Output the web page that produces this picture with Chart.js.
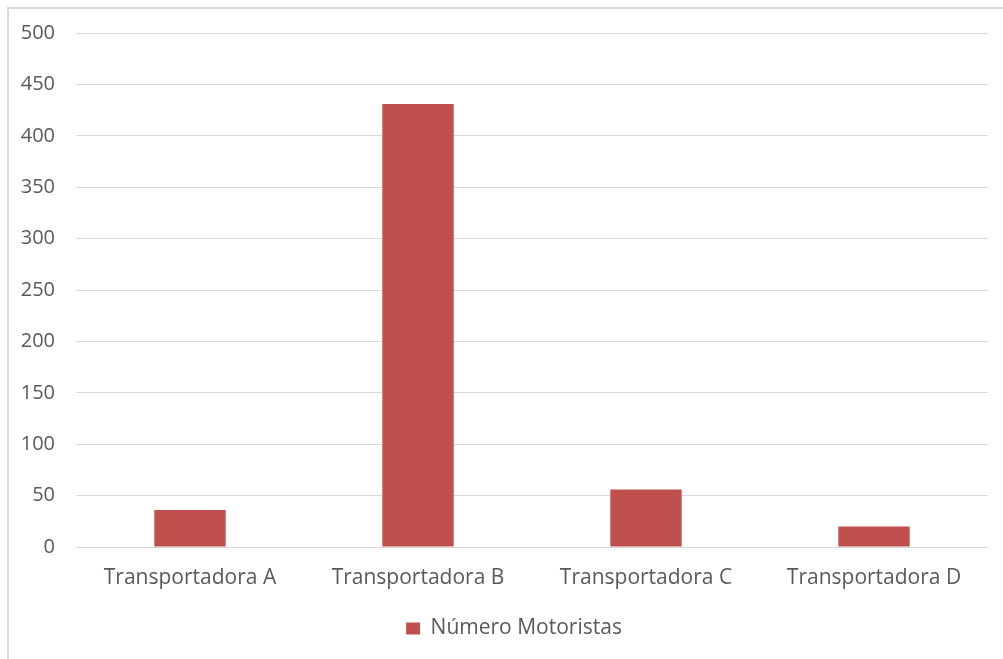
<!DOCTYPE html>
<html lang="pt-BR">
<head>
<meta charset="utf-8">
<title>Número Motoristas</title>
<script src="https://cdn.jsdelivr.net/npm/chart.js"></script>
<style>
  html, body { margin: 0; padding: 0; background: #fff; }
  body { width: 1003px; height: 659px; position: relative; overflow: hidden; }
  /* moldura do gráfico (só as bordas de cima e da esquerda aparecem) */
  .frame {
    position: absolute; left: 7px; top: 7px;
    width: 1010px; height: 670px;
    border: 2px solid #D9D9D9; box-sizing: border-box;
  }
  #wrap { position: absolute; left: 0; top: 0; width: 1003px; height: 659px; }
</style>
</head>
<body>
<div class="frame"></div>
<div id="wrap"><canvas id="chartMotoristas"></canvas></div>

<script>
// dados
const categorias = ['Transportadora A', 'Transportadora B', 'Transportadora C', 'Transportadora D'];
const motoristas = [36, 431, 56, 20];
const serieNome = 'Número Motoristas';
const ticksY = [0, 50, 100, 150, 200, 250, 300, 350, 400, 450, 500];

const COR = {
  barra: '#C0504D',
  texto: '#595959',
  grade: '#D9D9D9'
};
const FAMILIA = '"Open Sans", "Noto Sans", sans-serif';
const FONTE_Y = { family: FAMILIA, size: 20 };
const FONTE_X = { family: FAMILIA, size: 21 };

// desloca a legenda um pouco p/ direita depois do layout
const legendaDesloc = {
  id: 'legendaDesloc',
  afterLayout(chart) {
    const lg = chart.legend;
    if (!lg) return;
    lg.left += 20;
    lg.right += 20;
  }
};

const ctx = document.getElementById('chartMotoristas').getContext('2d');
new Chart(ctx, {
  type: 'bar',
  data: {
    labels: categorias,
    datasets: [{
      label: serieNome,
      data: motoristas,
      backgroundColor: COR.barra,
      borderWidth: 0,
      categoryPercentage: 1,
      barPercentage: 0.313
    }]
  },
  options: {
    responsive: true,
    maintainAspectRatio: false,
    animation: false,
    layout: { padding: { top: 32, right: 15, bottom: 10, left: 0 } },
    scales: {
      x: {
        grid: { display: false, drawTicks: false },
        border: { display: false },
        ticks: { color: COR.texto, font: FONTE_X, padding: 18, maxRotation: 0 },
        afterFit: s => { s.height = 61; }
      },
      y: {
        min: 0,
        max: 500,
        afterBuildTicks: s => { s.ticks = ticksY.map(v => ({ value: v })); },
        grid: { color: COR.grade, lineWidth: 1, drawTicks: false },
        border: { display: false },
        ticks: { color: COR.texto, font: FONTE_Y, padding: 21 },
        afterFit: s => { s.width = 76; }
      }
    },
    plugins: {
      legend: {
        position: 'bottom',
        labels: {
          color: COR.texto,
          font: FONTE_X,
          boxWidth: 14,
          boxHeight: 12,
          padding: 10
        }
      },
      tooltip: { enabled: false }
    }
  },
  plugins: [legendaDesloc]
});
</script>
</body>
</html>
